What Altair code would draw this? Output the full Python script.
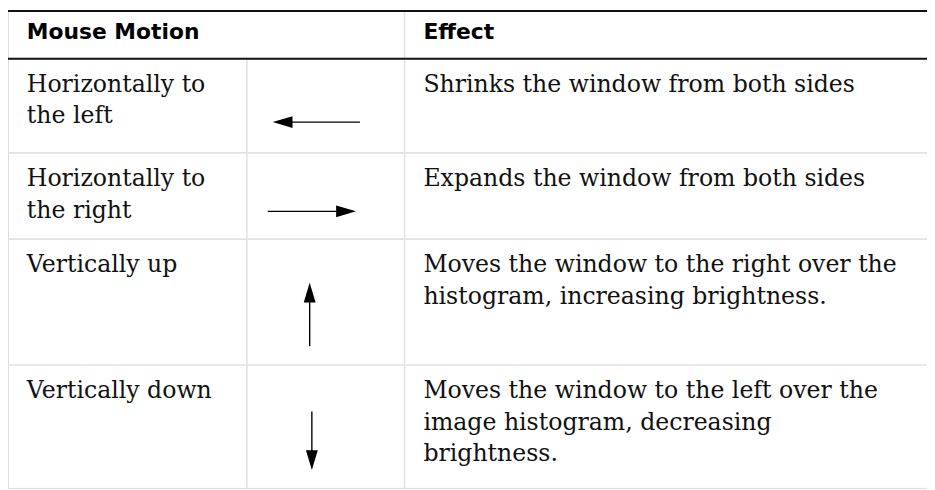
import altair as alt
import pandas as pd

# ---- table content ----
header_labels = ["Mouse Motion", "Effect"]
motion_lines = [
    ["Horizontally to", "the left"],
    ["Horizontally to", "the right"],
    ["Vertically up"],
    ["Vertically down"],
]
effect_lines = [
    ["Shrinks the window from both sides"],
    ["Expands the window from both sides"],
    ["Moves the window to the right over the", "histogram, increasing brightness."],
    ["Moves the window to the left over the", "image histogram, decreasing", "brightness."],
]
arrow_dirs = ["left", "right", "up", "down"]

# ---- layout (page pixel space) ----
W, H = 935, 490
M = 8
row_tops = [57, 152, 239, 366]
row_bottom = 490
col_x = {"motion": 27, "effect": 427}
col_div1, col_div2 = 249, 408
first_base = 33.5
line_gap = 31.8
header_base = 37

# arrow geometry: (centre x, centre y, half length) per direction
arrow_geo = {
    "left": (319, 121, 44),
    "right": (314.5, 211, 44.5),
    "up": (312.3, 315, 32),
    "down": (314.5, 442.5, 29.5),
}
head_len = 20
angles = {"right": 0, "down": 90, "left": 180, "up": 270}

# ---- build tables ----
text_rows = []
for i, lab in enumerate(header_labels):
    text_rows.append({"x": col_x["motion" if i == 0 else "effect"], "y": header_base,
                      "t": lab, "kind": "header"})
for r, lines in enumerate(motion_lines):
    for j, ln in enumerate(lines):
        text_rows.append({"x": col_x["motion"], "y": row_tops[r] + first_base + j * line_gap,
                          "t": ln, "kind": "body"})
for r, lines in enumerate(effect_lines):
    for j, ln in enumerate(lines):
        text_rows.append({"x": col_x["effect"], "y": row_tops[r] + first_base + j * line_gap,
                          "t": ln, "kind": "body"})
tdf = pd.DataFrame(text_rows)

dark_rules = pd.DataFrame([
    {"x": M, "x2": W, "y": M + 1, "y2": M + 1},
    {"x": M, "x2": W, "y": row_tops[0], "y2": row_tops[0]},
])
gray_rules = pd.DataFrame(
    [{"x": col_div2, "x2": col_div2, "y": M, "y2": row_bottom},
     {"x": col_div1, "x2": col_div1, "y": row_tops[0] + 1, "y2": row_bottom}]
    + [{"x": M, "x2": W, "y": t, "y2": t} for t in row_tops[1:]]
)

shafts, heads = [], []
for d in arrow_dirs:
    cx, cy, hl = arrow_geo[d]
    if d in ("left", "right"):
        sgn = 1 if d == "right" else -1
        tip = (cx + sgn * hl, cy)
        tail = (cx - sgn * hl, cy)
        base = (tip[0] - sgn * (head_len - 2), cy)
        hc = (tip[0] - sgn * head_len / 2, cy)
    else:
        sgn = 1 if d == "down" else -1
        tip = (cx, cy + sgn * hl)
        tail = (cx, cy - sgn * hl)
        base = (cx, tip[1] - sgn * (head_len - 2))
        hc = (cx, tip[1] - sgn * head_len / 2)
    shafts.append({"x": tail[0], "y": tail[1], "x2": base[0], "y2": base[1]})
    heads.append({"x": hc[0], "y": hc[1], "angle": angles[d]})
sdf = pd.DataFrame(shafts)
hdf = pd.DataFrame(heads)

xs = alt.Scale(domain=[M, W], range=[0, W - M], nice=False, zero=False)
ys = alt.Scale(domain=[M, H], range=[0, H - M], nice=False, zero=False)
X = lambda f="x": alt.X(f"{f}:Q", scale=xs, axis=None)
Y = lambda f="y": alt.Y(f"{f}:Q", scale=ys, axis=None)

gray = alt.Chart(gray_rules).mark_rule(color="#e2e2e2", strokeWidth=1.6, clip=False).encode(
    x=X(), x2="x2:Q", y=Y(), y2="y2:Q")
dark = alt.Chart(dark_rules).mark_rule(color="#111111", strokeWidth=2, clip=False).encode(
    x=X(), x2="x2:Q", y=Y(), y2="y2:Q")

body = alt.Chart(tdf[tdf.kind == "body"]).mark_text(
    align="left", baseline="alphabetic", font="DejaVu Serif", fontSize=23.8, color="#111111"
).encode(x=X(), y=Y(), text="t:N")
head = alt.Chart(tdf[tdf.kind == "header"]).mark_text(
    align="left", baseline="alphabetic", font="DejaVu Sans", fontWeight="bold", fontSize=22,
    color="#000000"
).encode(x=X(), y=Y(), text="t:N")

shaft = alt.Chart(sdf).mark_rule(color="#000000", strokeWidth=1.4).encode(
    x=X(), x2="x2:Q", y=Y(), y2="y2:Q")
arrowhead = alt.Chart(hdf).mark_point(
    shape="M 1 0 L -1 -0.6 L -1 0.6 Z", filled=True, color="#000000", opacity=1,
    size=400, strokeWidth=0
).encode(x=X(), y=Y(), angle=alt.Angle("angle:Q", scale=None))

chart = alt.layer(gray, dark, body, head, shaft, arrowhead).properties(
    width=W - M, height=H - M, padding=0, autosize=alt.AutoSizeParams(type="none")
).configure_view(stroke=None).configure(background="white")

chart.save("out.html", embed_options={"renderer": "svg", "actions": False})
